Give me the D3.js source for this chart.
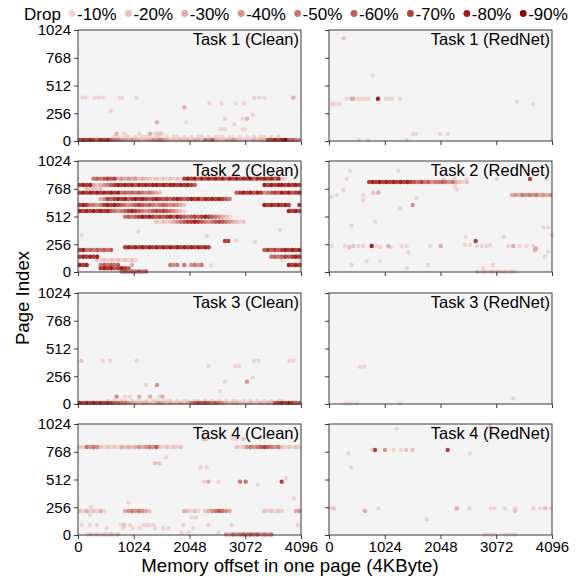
<!DOCTYPE html>
<html><head><meta charset="utf-8">
<script src="https://cdn.jsdelivr.net/npm/d3@7"></script>
<style>
html,body{margin:0;padding:0;background:#fff;}
text{font-family:"Liberation Sans",Arial,sans-serif;fill:#000;}
</style></head>
<body><svg id="chart" width="579" height="579"></svg>
<script>
// ---------- data ----------
const legendLabels = ["-10%","-20%","-30%","-40%","-50%","-60%","-70%","-80%","-90%"];
const dropColors = ["#efd5d2","#e7c2be","#dfaca7","#d5928c","#ca7771","#be5c57","#b0403c","#9e2320","#8b0000"];
const xTicks = [0,1024,2048,3072,4096];
const yTicks = [0,256,512,768,1024];
const titles = ["Task 1 (Clean)","Task 1 (RedNet)","Task 2 (Clean)","Task 2 (RedNet)",
                "Task 3 (Clean)","Task 3 (RedNet)","Task 4 (Clean)","Task 4 (RedNet)"];
const CELL = 64; // width (bytes) of one character cell in a run string

// runs: [pageIndex, firstCell, levels ('.' = no point)]
const t1CleanRuns = [
  [10,0,"7878768786554434332334454322232323325463223343222232337787896654"],
  [40,10,"11.11.1.111.11.1.11.1.1.11.1.111.11.1.1.1.11.1.1"]
];
const t1CleanPts = [
  [86,400,1],[141,400,1],[306,400,1],[380,400,1],[453,400,1],[771,400,1],[814,400,1],[1078,400,1],
  [3239,400,1],[3331,400,1],[3423,400,1],[3955,400,3],[600,280,1],[2412,347,1],[2639,347,1],
  [2896,347,1],[3055,347,1],[1953,310,3],[2700,206,1],[3208,240,1],[3018,206,1],[3104,206,3],
  [2871,154,1],[1984,172,1],[1451,172,3],[2627,108,1],[2700,108,1],[3024,108,1],[3067,108,1],
  [710,68,3],[833,68,1],[863,68,1],[1127,68,1],[1322,68,3],[1414,68,1],[1457,68,2],[1506,68,2],
  [1549,68,1],[3128,947,2]
];
const t1RedRuns = [];
const t1RedPts = [
  [269,947,2],[802,603,1],[324,390,1],[416,390,3],[447,390,3],[539,390,1],[569,390,1],[618,390,1],
  [667,390,1],[722,390,1],[900,390,8],[1047,390,1],[1108,390,1],[1157,390,1],[1304,390,1],
  [55,341,1],[104,341,1],[190,341,1],[3453,363,1],[3753,341,1],[1549,65,1],[1598,65,1],
  [2039,65,1],[2180,65,1],[551,10,1],[722,10,1],[1427,10,1]
];
const t2CleanRuns = [
  [861,4,"56567673434342322121212121787868787878687878786878786821"],
  [803,0,"7878323456787878687878878788787876"],[803,53,"87878878787"],
  [770,2,"21212"],
  [732,0,"787878787878565656545432"],[732,45,"6787868745676878678"],
  [673,6,"34767878678787678767678767878687878765"],
  [618,0,"7875545787876545676565456545432"],[618,53,"87878787"],[618,63,"7"],
  [563,0,"8787878786545678765456767654321"],[563,60,"8787"],
  [510,13,"5656787876767868765676787654321"],
  [464,22,"21212345677876545676543212"],
  [228,13,"7878787878787878787878787"],
  [203,0,"7856565656"],[203,53,"67676787878"],
  [141,0,"787878"],[141,55,"565676787"],
  [111,5,"212121212121"],
  [65,0,"878"],[65,6,"565656"],[65,15,"3"],[65,26,"545.5.4545"],[65,60,"8787"],
  [34,6,"787867876"],
  [5,12,"56565656"]
];
const t2CleanPts = [
  [1108,372,1],[2363,332,1],[3711,387,1],[2700,286,7],[2761,286,7],[67,341,1],
  [2900,290,1],[3250,280,1],[3750,110,1],[2450,60,1]
];
const t2RedRuns = [
  [830,11,"78787878787876575645565453212"],
  [710,52,"343545453434"],
  [3,42,"212121212121"]
];
const t2RedPts = [
  [386,935,1],[324,858,1],[1273,935,1],[2100,858,1],[2300,858,1],[2528,858,1],[3080,858,1],
  [3692,858,7],[3998,858,1],[49,695,1],[141,710,1],[263,756,1],[814,732,2],[906,732,3],
  [631,710,1],[631,664,1],[1610,680,1],[1537,618,4],[1304,587,1],[2314,793,1],[2345,763,1],
  [845,464,1],[416,430,1],[3937,412,1],[4029,412,1],[2510,326,1],[3208,326,1],[2694,286,7],
  [4090,341,1],[1457,181,1],[692,101,1],[937,101,1],[416,65,1],[1824,65,1],[3018,65,1],
  [1427,34,1],[2835,34,1],[3784,203,3],[3968,141,1],[4029,188,1],
  [49,240,1],[294,240,1],[373,228,2],[447,240,2],[539,240,1],[631,240,1],[784,240,8],
  [876,240,1],[937,228,1],[1090,240,3],[1133,228,1],[1335,240,1],[1427,240,1],[1855,240,1],
  [2051,240,3],[2498,250,1],[2590,250,1],[2712,240,1],[2804,240,1],[2896,240,1],[2957,250,1],
  [3294,240,1],[3386,240,3],[3508,240,1],[3631,240,1],[3753,240,1],[3802,218,3]
];
const t3CleanRuns = [
  [10,0,"8787878787665543323322343232232356767656543233222322323367878766"],
  [28,8,"1.1.11.1.1.1.11.111.1.11.11.1.1.1.1.11.1.1.1.1.1.11"]
];
const t3CleanPts = [
  [61,400,2],[453,400,1],[588,400,1],[1078,400,1],[3239,400,1],[3313,400,1],[3882,400,1],[3955,400,1],
  [2400,350,1],[2884,350,1],[2957,350,1],[3104,206,4],[3208,243,1],[2700,206,1],
  [1249,175,1],[1451,175,4],[2608,120,1],
  [710,68,4],[863,68,1],[955,68,1],[1127,68,3],[1322,68,3],[1494,68,1],[1549,68,3]
];
const t3RedRuns = [];
const t3RedPts = [
  [569,344,1],[643,344,1],[3386,52,1],[294,6,1],[355,6,1],[416,6,1],[508,6,1],[1304,6,1]
];
const t4CleanRuns = [
  [812,0,"215454212121323234345462121212"],[812,45,"2124545676545212121"],
  [221,0,"21312131"],[221,13,"34545432"],[221,30,"32121"],[221,36,"23456543"],
  [221,53,"212121"],[221,62,"34"],
  [5,2,"1212121212"],[5,42,"43545656564545"]
];
const t4CleanPts = [
  [2302,886,2],[2363,886,2],[2841,886,1],[2914,886,1],[3037,886,2],[3343,886,1],
  [1616,717,1],[1414,661,2],[1494,661,2],[2253,624,1],[2363,624,1],[3821,523,1],
  [2314,492,1],[2394,492,3],[2578,492,1],[2976,492,5],[3080,492,5],[3741,492,7],
  [3300,467,1],[3968,338,1],[925,298,1],[245,261,1],[220,191,1],[2088,163,1],[2168,163,1],
  [67,92,1],[220,92,1],[343,92,1],[790,92,1],[845,92,2],[955,92,1],[1212,92,1],[1261,92,1],
  [1304,92,1],[1384,92,1],[1935,92,1],[2394,92,1],[2823,92,1],[4035,92,1],
  [527,62,1],[833,62,1],[1004,62,1],[1139,62,1],[1414,62,1],[1567,62,1],[1659,62,1],[2119,62,1],
  [1904,22,1],[2027,22,1],[2578,22,1]
];
const t4RedRuns = [];
const t4RedPts = [
  [1243,981,1],[2957,1009,2],[2988,953,2],
  [784,784,1],[845,784,7],[1029,784,4],[1182,784,1],[1316,784,1],[1414,784,2],[1531,784,2],[2180,784,7],
  [355,753,1],[2590,753,1],[404,624,1],
  [31,246,1],[92,246,2],[906,246,1],[2345,246,3],[2578,246,1],[2970,246,1],[3037,246,1],
  [3233,246,1],[3417,246,1],[3753,246,1],[3876,246,1],[3968,246,2],[4072,246,1],
  [661,221,3],[3417,221,2],[1794,145,1],
  [2866,3,1],[2927,3,1],[2988,3,1],[3049,3,1],[3233,3,1],[3294,3,1],[3355,3,1],[3417,3,1]
];

const panelRuns = [t1CleanRuns,t1RedRuns,t2CleanRuns,t2RedRuns,t3CleanRuns,t3RedRuns,t4CleanRuns,t4RedRuns];
const panelPts  = [t1CleanPts,t1RedPts,t2CleanPts,t2RedPts,t3CleanPts,t3RedPts,t4CleanPts,t4RedPts];

// ---------- layout ----------
const colX = [78, 329], panelW = 223;
const rowY = [30, 161, 293, 424], panelH = 111;
const FONT = '"Liberation Sans", Arial, sans-serif';

const svg = d3.select("#chart");
const color = d3.scaleOrdinal().domain(d3.range(1,10)).range(dropColors);

function toPoints(runs, pts){
  const out = [];
  runs.forEach(([y, c0, s]) => {
    [...s].forEach((ch, i) => { if (ch !== ".") out.push({x:(c0+i)*CELL + CELL/2, y, level:+ch}); });
  });
  pts.forEach(([x,y,l]) => out.push({x, y, level:l}));
  return out.sort((a,b)=>a.level-b.level);
}

titles.forEach((title, idx) => {
  const r = Math.floor(idx/2), c = idx%2;
  const x0 = colX[c], y0 = rowY[r];
  const x = d3.scaleLinear().domain([0,4096]).range([x0, x0+panelW]);
  const y = d3.scaleLinear().domain([0,1024]).range([y0+panelH, y0]);
  const g = svg.append("g");
  g.append("rect").attr("x",x0).attr("y",y0).attr("width",panelW).attr("height",panelH)
    .attr("fill","#f4f4f4");
  g.append("g").selectAll("circle").data(toPoints(panelRuns[idx], panelPts[idx])).join("circle")
    .attr("cx", d=>x(d.x)).attr("cy", d=>y(d.y)).attr("r",2.2)
    .attr("fill", d=>color(d.level));
  g.append("rect").attr("x",x0).attr("y",y0).attr("width",panelW).attr("height",panelH)
    .attr("fill","none").attr("stroke","#3a3a3a").attr("stroke-width",1);
  const ya = d3.axisLeft(y).tickValues(yTicks).tickSize(4).tickPadding(3)
    .tickFormat(c===0 ? d3.format("d") : "");
  const yg = g.append("g").attr("transform",`translate(${x0},0)`).call(ya);
  const xa = d3.axisBottom(x).tickValues(xTicks).tickSize(4).tickPadding(2)
    .tickFormat(r===3 ? d3.format("d") : "");
  const xg = g.append("g").attr("transform",`translate(0,${y0+panelH})`).call(xa);
  [yg,xg].forEach(a=>{
    a.select(".domain").remove();
    a.selectAll(".tick line").attr("stroke","#3a3a3a");
    a.selectAll(".tick text").attr("font-size","15px").attr("font-family",FONT).attr("fill","#000");
  });
  g.append("text").attr("x", x0+panelW-2).attr("y", y0+15).attr("text-anchor","end")
    .attr("font-size","16.5px").text(title);
});

// legend
const lg = svg.append("g");
lg.append("text").attr("x",24).attr("y",19.5).attr("font-size","17px").text("Drop");
legendLabels.forEach((lab,i)=>{
  const cx = 72 + i*56.4;
  lg.append("circle").attr("cx",cx).attr("cy",13.5).attr("r",3.4).attr("fill",dropColors[i]);
  lg.append("text").attr("x",cx+5).attr("y",19.5).attr("font-size","17px").text(lab);
});

// axis titles
svg.append("text").attr("x",290).attr("y",572).attr("text-anchor","middle")
  .attr("font-size","18.6px").text("Memory offset in one page (4KByte)");
svg.append("text").attr("transform","translate(29,298) rotate(-90)").attr("text-anchor","middle")
  .attr("font-size","18.6px").text("Page Index");
</script></body></html>
